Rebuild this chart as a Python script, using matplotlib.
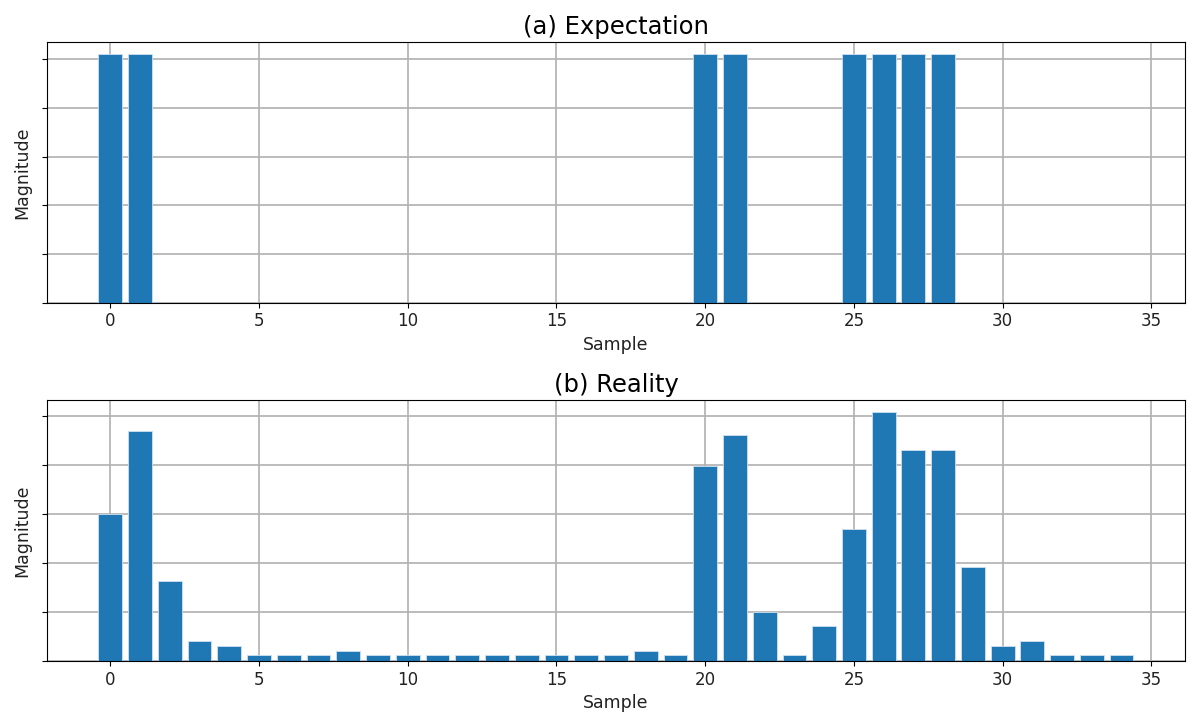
import numpy as np
import matplotlib
matplotlib.use("Agg")
import matplotlib.pyplot as plt

# sample index 0..34
samples = np.arange(35)

# expected magnitudes (ideal sparse spectrum)
expected = np.zeros(35)
expected[[0, 1, 20, 21, 25, 26, 27, 28]] = 1.02

reality = np.array([
    0.600, 0.940, 0.324, 0.082, 0.062, 0.022, 0.022, 0.022, 0.042, 0.022,
    0.022, 0.022, 0.022, 0.022, 0.022, 0.022, 0.022, 0.022, 0.042, 0.022,
    0.796, 0.922, 0.200, 0.022, 0.142, 0.538, 1.014, 0.860, 0.860, 0.384,
    0.062, 0.082, 0.022, 0.022, 0.022,
])

fig, (ax1, ax2) = plt.subplots(2, 1, figsize=(11.96, 7.23), dpi=100)

for ax, vals, title in [(ax1, expected, "(a) Expectation"), (ax2, reality, "(b) Reality")]:
    ax.bar(samples, vals, color="#1f77b4", edgecolor="#cfe0ef", linewidth=0.6, zorder=2)
    ax.set_title(title, fontsize=17.5)
    ax.set_xlabel("Sample", fontsize=12.5, color="#222222")
    ax.set_ylabel("Magnitude", fontsize=12.5, color="#222222")
    ax.set_yticks(np.arange(0, 1.01, 0.2))
    ax.set_yticklabels([])
    ax.set_xticks(range(0, 36, 5))
    ax.tick_params(axis="x", labelsize=12, labelcolor="#222222")
    ax.grid(True, color="#b0b0b0", linewidth=1.2, zorder=0)
    ax.set_axisbelow(True)

plt.subplots_adjust(left=0.039, right=0.991, top=0.942, bottom=0.086, hspace=0.373)
plt.savefig("out.png")
